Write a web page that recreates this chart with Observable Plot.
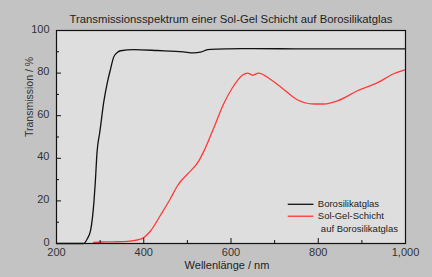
<!DOCTYPE html>
<html>
<head>
<meta charset="utf-8">
<script src="https://cdn.jsdelivr.net/npm/d3@7"></script>
<script src="https://cdn.jsdelivr.net/npm/@observablehq/plot@0.6"></script>
<style>
  html, body { margin: 0; padding: 0; background: #c3c3c3; }
</style>
</head>
<body>
<div id="chart"></div>
<script>
// Borosilikatglas (black)
const glassNm = [200, 262, 270, 278, 286, 289, 293, 299, 301, 308, 317, 324, 331, 340, 347, 377, 432, 491, 514, 530, 546, 570, 592, 650, 750, 850, 950, 1000];
const glassT  = [0,   0,   2,   6,   20,  29,  43,  52,  55,  66,  76,  82,  87.5,89.8,90.5,91,  90.6,90,  89.5,89.8,91,  91.3,91.4,91.5,91.4,91.4,91.4,91.4];

// Sol-Gel-Schicht auf Borosilikatglas (red)
const solNm = [285, 300, 330, 363, 393, 416, 439, 461, 477, 484, 500, 526, 537, 560, 583, 603, 626, 638, 650, 663, 691, 714, 752, 790, 813, 844, 890, 936, 973, 1000];
const solT  = [0.5, 0.7, 0.8, 1,   2,   6,   13.5,21,  27,  29,  32.5,38.7,43,  54,  65.5,73,  79,  80,  79,  80,  77,  73.5,67.5,65.5,65.5,67,  71.7,75.5,79.7,81.6];

const xTicksMajor = [200, 400, 600, 800, 1000];
const xTicksMinor = [300, 500, 700, 900];
const yTicksMajor = [0, 20, 40, 60, 80, 100];
const yTicksMinor = [10, 30, 50, 70, 90];

const titleText = "Transmissionsspektrum einer Sol-Gel Schicht auf Borosilikatglas";
const xLabel = "Wellenlänge / nm";
const yLabel = "Transmission / %";
const legendLabels = ["Borosilikatglas", "Sol-Gel-Schicht", "auf Borosilikatglas"];
const seriesColors = ["#111111", "#ff3a3a"];

const glass = glassNm.map((x, i) => ({x, y: glassT[i]}));
const sol = solNm.map((x, i) => ({x, y: solT[i]}));

const W = 432, H = 277;
const mL = 56, mR = 27, mT = 30, mB = 34;
const fw = W - mL - mR, fh = H - mT - mB;
const font = "'Liberation Sans', Arial, sans-serif";

// legend rows (data-space anchors for the inset legend)
const legendLines = [
  {x1: 730, x2: 789, y: 18.4, c: seriesColors[0]},
  {x1: 730, x2: 789, y: 12.8, c: seriesColors[1]}
];
const legendTexts = [
  {x: 799, y: 18.4, t: legendLabels[0]},
  {x: 799, y: 12.8, t: legendLabels[1]},
  {x: 806, y: 6.8, t: legendLabels[2]}
];

const chart = Plot.plot({
  width: W, height: H,
  marginLeft: mL, marginRight: mR, marginTop: mT, marginBottom: mB,
  style: {background: "#c3c3c3", fontFamily: font, fontSize: "11px", color: "#222"},
  x: {domain: [200, 1000], axis: null},
  y: {domain: [0, 100], axis: null},
  marks: [
    Plot.frame({fill: "#dedede", stroke: "none"}),
    Plot.line(glass, {x: "x", y: "y", stroke: seriesColors[0], strokeWidth: 1.3, curve: "monotone-x"}),
    Plot.line(sol, {x: "x", y: "y", stroke: seriesColors[1], strokeWidth: 1.3, curve: "monotone-x"}),
    Plot.tickY(yTicksMajor, {y: d => d, insetRight: fw - 5, stroke: "#111"}),
    Plot.tickY(yTicksMinor, {y: d => d, insetRight: fw - 3, stroke: "#111"}),
    Plot.tickX(xTicksMajor, {x: d => d, insetTop: fh - 5, stroke: "#111"}),
    Plot.tickX(xTicksMinor, {x: d => d, insetTop: fh - 3, stroke: "#111"}),
    Plot.frame({stroke: "#111", strokeWidth: 1.2}),
    Plot.axisY(yTicksMajor, {tickSize: 0, tickPadding: 7, dy: -1.5, fontSize: 11, fill: "#333", label: null}),
    Plot.axisX(xTicksMajor, {tickSize: 0, tickPadding: 5, fontSize: 11, fill: "#333", label: null}),
    Plot.link(legendLines, {x1: "x1", x2: "x2", y1: "y", y2: "y", stroke: "c", strokeWidth: 1.3}),
    Plot.text(legendTexts, {x: "x", y: "y", text: "t", textAnchor: "start", fontSize: 9.5, fill: "#222"}),
    Plot.text([titleText], {frameAnchor: "top", dy: -16, fontSize: 11.3, fill: "#222"}),
    Plot.text([xLabel], {frameAnchor: "bottom", dy: 25, dx: -4, fontSize: 11, fill: "#222"}),
    Plot.text([yLabel], {frameAnchor: "left", dx: -27, rotate: -90, fontSize: 10.5, fill: "#333"})
  ]
});
document.getElementById("chart").appendChild(chart);
</script>
</body>
</html>
